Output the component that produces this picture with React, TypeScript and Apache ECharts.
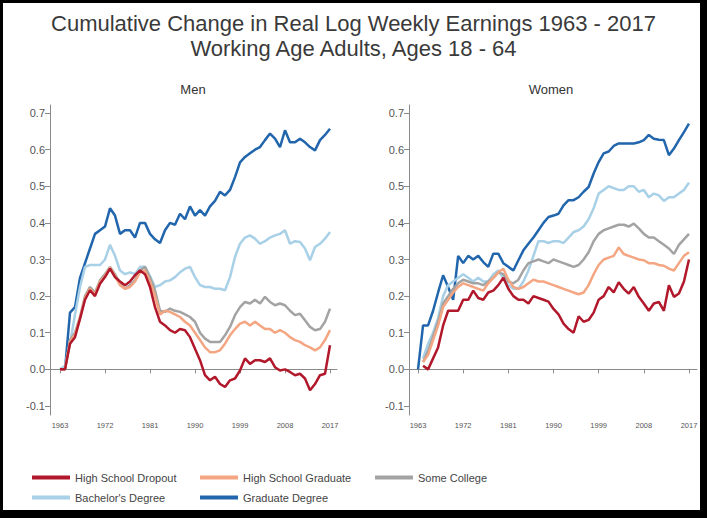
import React, { useEffect, useRef } from "react";
import * as echarts from "echarts";

const years = [
  1963, 1964, 1965, 1966, 1967, 1968, 1969, 1970, 1971, 1972,
  1973, 1974, 1975, 1976, 1977, 1978, 1979, 1980, 1981, 1982,
  1983, 1984, 1985, 1986, 1987, 1988, 1989, 1990, 1991, 1992,
  1993, 1994, 1995, 1996, 1997, 1998, 1999, 2000, 2001, 2002,
  2003, 2004, 2005, 2006, 2007, 2008, 2009, 2010, 2011, 2012,
  2013, 2014, 2015, 2016, 2017,
];

const xTicks = [1963, 1972, 1981, 1990, 1999, 2008, 2017];
const yTicks = [-0.1, 0, 0.1, 0.2, 0.3, 0.4, 0.5, 0.6, 0.7];

const seriesNames = [
  "High School Dropout",
  "High School Graduate",
  "Some College",
  "Bachelor's Degree",
  "Graduate Degree",
];
const seriesColors = ["#b2182b", "#f4a582", "#a3a3a3", "#a8d0e6", "#2166ac"];

// Men
const menDropout = [
  0, 0, 0.07, 0.088, 0.138, 0.19, 0.216, 0.2, 0.234, 0.252,
  0.275, 0.252, 0.24, 0.23, 0.24, 0.257, 0.27, 0.26, 0.225, 0.17,
  0.13, 0.12, 0.107, 0.1, 0.11, 0.107, 0.088, 0.056, 0.025, -0.016,
  -0.03, -0.02, -0.04, -0.048, -0.03, -0.025, -0.003, 0.03, 0.015, 0.025,
  0.025, 0.02, 0.03, 0.006, -0.003, 0, -0.007, -0.016, -0.012, -0.025,
  -0.057, -0.04, -0.016, -0.012, 0.066,
];
const menHSGrad = [
  0, 0, 0.075, 0.095, 0.14, 0.195, 0.22, 0.205, 0.24, 0.255,
  0.278, 0.255, 0.23, 0.22, 0.225, 0.24, 0.265, 0.27, 0.24, 0.2,
  0.15, 0.16, 0.157, 0.15, 0.143, 0.13, 0.12, 0.1, 0.08, 0.06,
  0.047, 0.047, 0.052, 0.07, 0.093, 0.11, 0.125, 0.13, 0.12, 0.13,
  0.12, 0.11, 0.11, 0.1, 0.107, 0.1, 0.088, 0.08, 0.075, 0.066,
  0.06, 0.052, 0.06, 0.08, 0.107,
];
const menSomeCollege = [
  0, 0, 0.08, 0.1, 0.143, 0.2, 0.225, 0.21, 0.243, 0.26,
  0.28, 0.26, 0.234, 0.22, 0.23, 0.243, 0.27, 0.28, 0.25, 0.216,
  0.16, 0.157, 0.166, 0.16, 0.157, 0.15, 0.143, 0.13, 0.1, 0.084,
  0.075, 0.075, 0.075, 0.093, 0.116, 0.148, 0.17, 0.184, 0.18, 0.19,
  0.18, 0.198, 0.184, 0.175, 0.18, 0.175, 0.16, 0.148, 0.152, 0.134,
  0.116, 0.107, 0.11, 0.13, 0.166,
];
const menBachelor = [
  0, 0.01, 0.07, 0.15, 0.225, 0.28, 0.285, 0.285, 0.285, 0.3,
  0.34, 0.31, 0.27, 0.26, 0.265, 0.26, 0.28, 0.28, 0.255, 0.225,
  0.23, 0.24, 0.243, 0.252, 0.265, 0.275, 0.28, 0.252, 0.23, 0.225,
  0.225, 0.22, 0.22, 0.216, 0.252, 0.307, 0.343, 0.36, 0.366, 0.357,
  0.343, 0.35, 0.36, 0.366, 0.37, 0.38, 0.343, 0.35, 0.348, 0.33,
  0.298, 0.334, 0.343, 0.357, 0.375,
];
const menGraduate = [
  0, 0, 0.155, 0.17, 0.25, 0.29, 0.33, 0.37, 0.38, 0.39,
  0.44, 0.42, 0.37, 0.38, 0.38, 0.36, 0.4, 0.4, 0.37, 0.355,
  0.345, 0.38, 0.4, 0.395, 0.425, 0.41, 0.445, 0.42, 0.435, 0.42,
  0.445, 0.46, 0.485, 0.475, 0.49, 0.525, 0.565, 0.58, 0.59, 0.6,
  0.607, 0.626, 0.644, 0.63, 0.607, 0.653, 0.62, 0.62, 0.63, 0.62,
  0.607, 0.598, 0.626, 0.64, 0.657,
];

// Women
const womenDropout = [
  null, 0.01, 0.0, 0.03, 0.06, 0.12, 0.16, 0.16, 0.16, 0.19,
  0.19, 0.215, 0.195, 0.19, 0.21, 0.215, 0.23, 0.25, 0.22, 0.2,
  0.19, 0.19, 0.18, 0.2, 0.195, 0.19, 0.185, 0.165, 0.15, 0.125,
  0.11, 0.1, 0.145, 0.13, 0.135, 0.155, 0.19, 0.2, 0.225, 0.21,
  0.238, 0.22, 0.207, 0.225, 0.198, 0.18, 0.16, 0.18, 0.184, 0.16,
  0.23, 0.198, 0.207, 0.24, 0.3,
];
const womenHSGrad = [
  null, 0.02, 0.04, 0.08, 0.12, 0.17, 0.19, 0.21, 0.225, 0.235,
  0.23, 0.225, 0.22, 0.215, 0.235, 0.25, 0.265, 0.275, 0.245, 0.225,
  0.22, 0.225, 0.235, 0.245, 0.24, 0.24, 0.235, 0.23, 0.225, 0.22,
  0.215, 0.21, 0.205, 0.21, 0.23, 0.26, 0.285, 0.3, 0.305, 0.31,
  0.333, 0.315, 0.31, 0.305, 0.3, 0.298, 0.29, 0.29, 0.285, 0.283,
  0.275, 0.27, 0.29, 0.31, 0.32,
];
const womenSomeCollege = [
  null, 0.02, 0.05, 0.09, 0.13, 0.18, 0.2, 0.22, 0.235, 0.245,
  0.24, 0.235, 0.235, 0.23, 0.24, 0.25, 0.265, 0.26, 0.24, 0.235,
  0.245, 0.27, 0.29, 0.295, 0.3, 0.295, 0.29, 0.3, 0.295, 0.29,
  0.285, 0.28, 0.285, 0.3, 0.32, 0.35, 0.37, 0.38, 0.385, 0.39,
  0.395, 0.395, 0.39, 0.398, 0.385, 0.37, 0.36, 0.36, 0.35, 0.34,
  0.33, 0.315, 0.34, 0.355, 0.37,
];
const womenBachelor = [
  null, 0.03, 0.07, 0.1, 0.14, 0.2, 0.23, 0.24, 0.25, 0.26,
  0.25, 0.24, 0.25, 0.24, 0.24, 0.26, 0.27, 0.25, 0.23, 0.22,
  0.22, 0.24, 0.27, 0.31, 0.35, 0.35, 0.345, 0.35, 0.35, 0.345,
  0.36, 0.375, 0.38, 0.39, 0.41, 0.44, 0.48, 0.49, 0.5, 0.495,
  0.49, 0.49, 0.5, 0.5, 0.485, 0.49, 0.47, 0.48, 0.475, 0.46,
  0.47, 0.47, 0.48, 0.49, 0.51,
];
const womenGraduate = [
  0, 0.12, 0.12, 0.16, 0.21, 0.257, 0.225, 0.19, 0.31, 0.29,
  0.31, 0.3, 0.31, 0.293, 0.28, 0.316, 0.316, 0.29, 0.28, 0.27,
  0.298, 0.325, 0.343, 0.36, 0.38, 0.4, 0.416, 0.42, 0.425, 0.448,
  0.462, 0.462, 0.47, 0.485, 0.498, 0.535, 0.566, 0.59, 0.595, 0.61,
  0.617, 0.617, 0.617, 0.617, 0.62, 0.626, 0.64, 0.63, 0.627, 0.626,
  0.585, 0.603, 0.626, 0.648, 0.671,
];

const menData = [menDropout, menHSGrad, menSomeCollege, menBachelor, menGraduate];
const womenData = [womenDropout, womenHSGrad, womenSomeCollege, womenBachelor, womenGraduate];

const FONT = "'Liberation Sans', Arial, Helvetica, sans-serif";

function xAxisFor(gridIndex: number, min: number, max: number) {
  return {
    type: "value",
    gridIndex,
    min,
    max,
    splitLine: { show: false },
    axisLine: { show: true, lineStyle: { color: "#8a8a8a", width: 1 } },
    axisTick: { show: true, length: 4, customValues: xTicks, lineStyle: { color: "#8a8a8a" } },
    axisLabel: {
      customValues: xTicks,
      fontSize: 7.5,
      color: "#555",
      fontFamily: FONT,
      margin: 6,
      formatter: (v: number) => String(v),
    },
  };
}

function yAxisFor(gridIndex: number) {
  return {
    type: "value",
    gridIndex,
    min: -0.1246,
    max: 0.7219,
    splitLine: { show: false },
    axisLine: { show: true, lineStyle: { color: "#8a8a8a", width: 1 } },
    axisTick: { show: true, length: 5, customValues: yTicks, lineStyle: { color: "#8a8a8a" } },
    axisLabel: {
      customValues: yTicks,
      fontSize: 11,
      color: "#555",
      fontFamily: FONT,
      margin: 5,
      formatter: (v: number) => v.toFixed(1),
    },
  };
}

export default function App() {
  const ref = useRef<HTMLDivElement>(null);

  useEffect(() => {
    if (!ref.current) return;
    const chart = echarts.init(ref.current, undefined, { renderer: "svg" });

    const order = [4, 3, 2, 1, 0];
    const series: any[] = [];
    [menData, womenData].forEach((group, gi) => {
      order.forEach((si) => {
        series.push({
          type: "line",
          name: seriesNames[si],
          xAxisIndex: gi,
          yAxisIndex: gi,
          data: years.map((y, i) => [y, group[si][i]]),
          showSymbol: false,
          connectNulls: false,
          color: seriesColors[si],
          lineStyle: { color: seriesColors[si], width: 2.5 },
          z: 2 + (4 - si),
        });
      });
    });

    const legendPos = [
      { left: 32, top: 472 },
      { left: 200, top: 472 },
      { left: 375, top: 472 },
      { left: 32, top: 492 },
      { left: 200, top: 492 },
    ];
    const legends = seriesNames.map((n, i) => ({
      data: [n],
      left: legendPos[i].left,
      top: legendPos[i].top,
      padding: 0,
      icon: "rect",
      itemWidth: 38,
      itemHeight: 4,
      textStyle: { fontSize: 11, color: "#444", fontFamily: FONT },
    }));

    chart.setOption({
      animation: false,
      backgroundColor: "#ffffff",
      title: [
        {
          text: "Cumulative Change in Real Log Weekly Earnings 1963 - 2017\nWorking Age Adults, Ages 18 - 64",
          left: "center",
          top: 6,
          textStyle: {
            fontSize: 22,
            fontWeight: "normal",
            color: "#3a3a3a",
            fontFamily: FONT,
            lineHeight: 25,
          },
        },
        {
          text: "Men",
          left: 188,
          top: 78,
          textAlign: "center",
          textStyle: { fontSize: 13, fontWeight: "normal", color: "#333", fontFamily: FONT },
        },
        {
          text: "Women",
          left: 546,
          top: 78,
          textAlign: "center",
          textStyle: { fontSize: 13, fontWeight: "normal", color: "#333", fontFamily: FONT },
        },
      ],
      legend: legends,
      grid: [
        { left: 50, top: 105, width: 287, height: 310 },
        { left: 409, top: 105, width: 288, height: 310 },
      ],
      xAxis: [xAxisFor(0, 1961, 2018.4), xAxisFor(1, 1961.2, 2018.6)],
      yAxis: [yAxisFor(0), yAxisFor(1)],
      series,
      graphic: [
        { type: "rect", left: 0, top: 0, shape: { width: 707, height: 3 }, style: { fill: "#000" }, silent: true },
        { type: "rect", left: 0, top: 0, shape: { width: 3, height: 518 }, style: { fill: "#000" }, silent: true },
        { type: "rect", left: 700, top: 0, shape: { width: 7, height: 518 }, style: { fill: "#000" }, silent: true },
        { type: "rect", left: 0, top: 510, shape: { width: 707, height: 8 }, style: { fill: "#000" }, silent: true },
      ],
    });

    return () => chart.dispose();
  }, []);

  return (
    <div
      ref={ref}
      style={{ position: "absolute", left: 0, top: 0, width: 707, height: 518, background: "#fff" }}
    />
  );
}
